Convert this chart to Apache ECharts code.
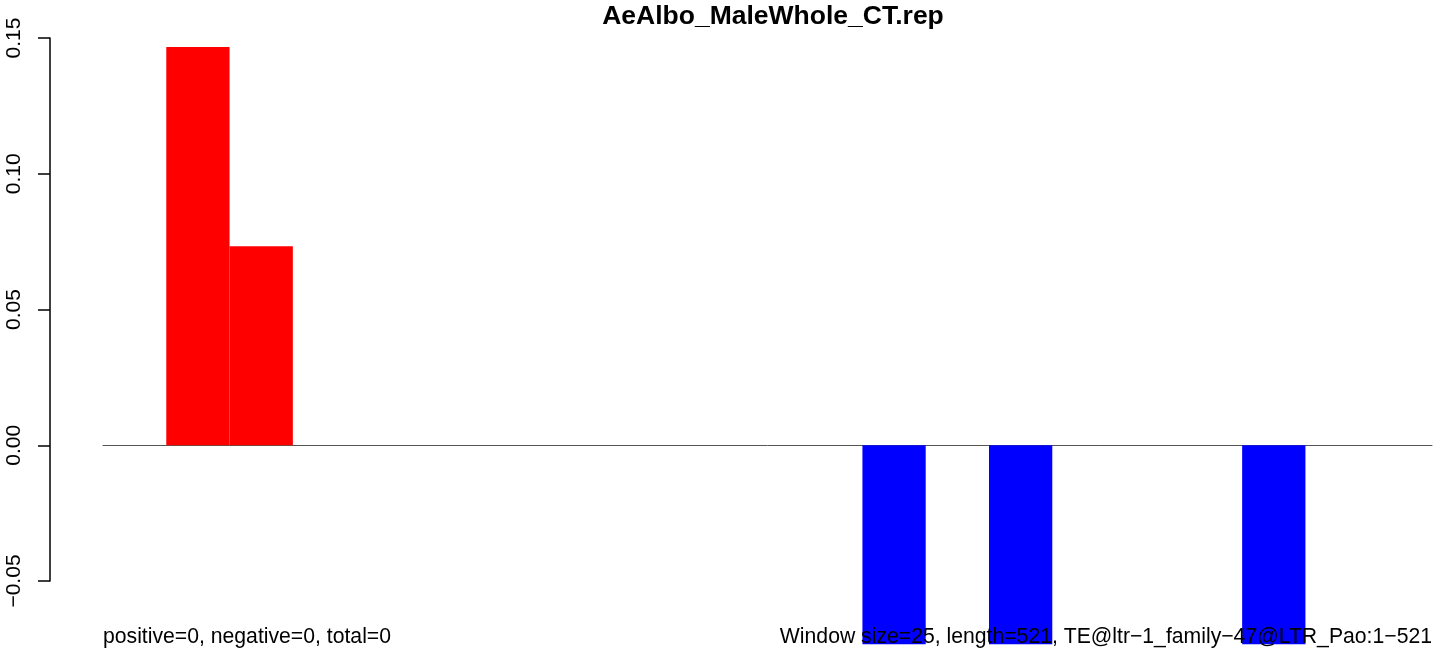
<!DOCTYPE html>
<html>
<head>
<meta charset="utf-8">
<script src="https://cdn.jsdelivr.net/npm/echarts@6/dist/echarts.min.js"></script>
<style>
  html, body { margin: 0; padding: 0; background: #fff; }
  #chart { width: 1444px; height: 656px; }
</style>
</head>
<body>
<div id="chart"></div>
<script>
// window starts (window size 25, length 521)
var windows = ["1", "26", "51", "76", "101", "126", "151", "176", "201", "226", "251",
  "276", "301", "326", "351", "376", "401", "426", "451", "476", "501"];
var ratios = [0, 0.1467, 0.0733, 0, 0, 0, 0, 0, 0, 0, 0,
  0, -0.0733, 0, -0.0733, 0, 0, 0, -0.0733, 0, 0];
var yTicks = { min: -0.05, max: 0.15, step: 0.05 };
var chartTitle = "AeAlbo_MaleWhole_CT.rep";
var leftNote = "positive=0, negative=0, total=0";
var rightNote = "Window size=25, length=521, TE@ltr\u22121_family\u221247@LTR_Pao:1\u2212521";

var chart = echarts.init(document.getElementById("chart"));
var font = "Liberation Sans, Arial, Helvetica, sans-serif";

var option = {
  animation: false,
  backgroundColor: "#fff",
  title: {
    text: chartTitle,
    left: 768,
    textAlign: "center",
    top: -2,
    textStyle: { fontFamily: font, fontWeight: "bold", fontSize: 26.5, color: "#000" }
  },
  grid: { left: 103, right: 12, top: 38, bottom: 75 },
  xAxis: {
    type: "category",
    data: windows,
    axisLine: { show: true, onZero: true, lineStyle: { color: "#555", width: 1 } },
    axisTick: { show: false },
    axisLabel: { show: false },
    splitLine: { show: false }
  },
  yAxis: {
    type: "value",
    min: yTicks.min,
    max: yTicks.max,
    interval: yTicks.step,
    offset: 53,
    axisLine: { show: true, lineStyle: { color: "#000", width: 1.5 } },
    axisTick: { show: true, length: 12, lineStyle: { color: "#000", width: 1.5 } },
    splitLine: { show: false },
    axisLabel: {
      rotate: 90,
      margin: 25,
      fontFamily: font,
      fontSize: 21,
      color: "#000",
      formatter: function (v) { return v.toFixed(2).replace("-", "\u2212"); }
    }
  },
  series: [{
    type: "bar",
    data: ratios,
    barWidth: "100%",
    clip: false,
    itemStyle: {
      color: function (p) { return p.value >= 0 ? "#ff0000" : "#0000ff"; }
    }
  }],
  graphic: [
    {
      type: "text", left: 103, top: 627, z: 100,
      style: { text: leftNote, font: "21.2px " + font, fill: "#000" }
    },
    {
      type: "text", right: 12, top: 627, z: 100,
      style: { text: rightNote, font: "21.2px " + font, fill: "#000" }
    }
  ]
};

chart.setOption(option);
</script>
</body>
</html>
